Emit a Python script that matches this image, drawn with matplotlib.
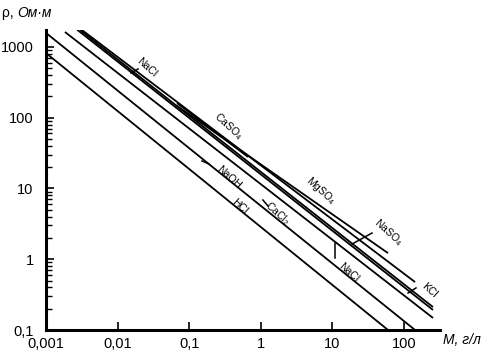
import numpy as np
import matplotlib
matplotlib.use('Agg')
import matplotlib.pyplot as plt
from matplotlib.ticker import FixedLocator, LogLocator, NullLocator, NullFormatter

plt.rcParams['font.family'] = ['Liberation Sans', 'DejaVu Sans']
plt.rcParams['mathtext.default'] = 'regular'

# straight lines in log-log: start (M, rho) -> end (M, rho)
names = ['HCl', 'NaOH', 'CaCl2', 'NaCl', 'KCl', 'NaSO4', 'MgSO4', 'CaSO4']
m_start = [0.001, 0.001, 0.00184, 0.00271, 0.00299, 0.00318, 0.0676, 0.0676]
rho_start = [820, 1580, 1629, 1760, 1738, 1738, 146.6, 161]
m_end = [59.8, 142.6, 254, 254, 254, 142.6, 59.8, 0.662]
rho_end = [0.1, 0.1, 0.148, 0.192, 0.211, 0.476, 1.22, 27.9]

# curve labels
lab_text = ['NaCl', 'CaSO$_4$', 'NaOH', 'HCl', 'CaCl$_2$', 'MgSO$_4$', 'NaSO$_4$', 'NaCl', 'KCl']
lab_m = [0.0258, 0.348, 0.360, 0.512, 1.68, 6.93, 59.8, 17.1, 223]
lab_rho = [505, 76.4, 14.5, 5.48, 4.5, 9.2, 2.43, 0.66, 0.367]

# small leader strokes
lead_m = [(0.01538, 0.01928), (0.151, 0.189), (1.07, 1.26), (18.8, 35.7), (113.8, 147), (10.9, 10.9)]
lead_rho = [(429, 489), (24.5, 22.2), (6.88, 5.66), (1.64, 2.35), (0.333, 0.393), (1.70, 1.04)]

x_ticks = [0.001, 0.01, 0.1, 1, 10, 100]
x_labels = ['0,001', '0,01', '0,1', '1', '10', '100']
y_ticks = [0.1, 1, 10, 100, 1000]
y_labels = ['0,1', '1', '10', '100', '1000']

fig = plt.figure(figsize=(4.94, 3.59), dpi=100)
ax = fig.add_axes([46/494, 29/359, 394/494, 300/359])

for i in range(len(names)):
    ax.plot([m_start[i], m_end[i]], [rho_start[i], rho_end[i]], color='black', lw=1.3,
            solid_capstyle='butt')

for t, m, r in zip(lab_text, lab_m, lab_rho):
    ax.text(m, r, t, fontsize=7.5, rotation=-42, rotation_mode='anchor',
            ha='center', va='center')

for (m1, m2), (r1, r2) in zip(lead_m, lead_rho):
    ax.plot([m1, m2], [r1, r2], color='black', lw=1.1)

ax.set_xscale('log')
ax.set_yscale('log')
ax.set_xlim(0.001, 318)
ax.set_ylim(0.1, 1738)

ax.xaxis.set_major_locator(FixedLocator(x_ticks))
ax.set_xticklabels(x_labels)
ax.xaxis.set_minor_locator(NullLocator())
ax.yaxis.set_major_locator(FixedLocator(y_ticks))
ax.set_yticklabels(y_labels)
ax.yaxis.set_minor_locator(LogLocator(base=10, subs=np.arange(2, 10)))
ax.yaxis.set_minor_formatter(NullFormatter())

for s in ['top', 'right']:
    ax.spines[s].set_visible(False)
for s in ['left', 'bottom']:
    ax.spines[s].set_linewidth(2.2)

ax.tick_params(axis='both', which='major', direction='in', length=6, width=1.2,
               labelsize=10.5, colors='black')
ax.tick_params(axis='y', which='minor', direction='in', length=4, width=1.0)
ax.tick_params(axis='x', pad=5)
ax.tick_params(axis='y', pad=9)

fig.text(2/494, 1 - 13/359, 'ρ, ', fontsize=10, ha='left', va='center')
fig.text(17/494, 1 - 13/359, 'Ом·м', fontsize=10, style='italic', ha='left', va='center')
fig.text(443/494, 1 - 340/359, 'M, г/л', fontsize=10, style='italic', ha='left', va='center')

fig.savefig('out.png', dpi=100)
